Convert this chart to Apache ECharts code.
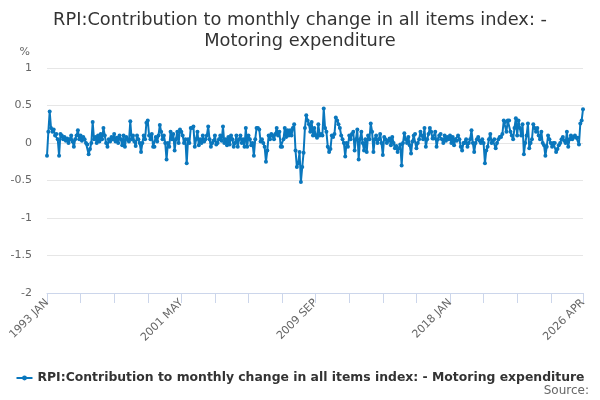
<!DOCTYPE html>
<html>
<head>
<meta charset="utf-8">
<script src="https://cdn.jsdelivr.net/npm/echarts@6/dist/echarts.min.js"></script>
<style>
html,body{margin:0;padding:0;background:#fff;}
#chart{width:600px;height:400px;}
</style>
</head>
<body>
<div id="chart"></div>
<script>
// monthly values, 1993 JAN .. 2026 APR (one row per year)
var values = [
    -0.17, 0.15, 0.42, 0.2, 0.15, 0.18, 0.1, 0.12, 0.05, -0.17, 0.12, 0.1,
    0.05, 0.08, 0.03, 0.06, 0.0, 0.05, 0.1, 0.02, -0.05, 0.05, 0.1, 0.17,
    0.05, 0.1, 0.03, 0.08, 0.05, 0.0, -0.02, -0.15, -0.08, 0.0, 0.28, 0.05,
    0.08, 0.0, 0.1, 0.02, 0.12, 0.05, 0.2, 0.1, 0.0, -0.05, 0.05, 0.02,
    0.08, 0.05, 0.12, 0.02, 0.07, 0.0, 0.1, 0.05, -0.03, 0.1, -0.05, 0.08,
    0.05, 0.02, 0.29, 0.05, 0.1, 0.02, -0.04, 0.1, 0.05, 0.0, -0.12, 0.0,
    0.1, 0.05, 0.27, 0.3, 0.1, 0.05, 0.12, -0.05, -0.05, 0.08, 0.02, 0.1,
    0.24, 0.15, 0.05, 0.1, 0.0, -0.22, 0.0, -0.05, 0.15, 0.05, 0.12, -0.1,
    0.05, 0.15, 0.0, 0.18, 0.15, 0.1, 0.0, 0.05, -0.27, 0.05, 0.0, 0.2,
    0.2, 0.22, -0.05, 0.05, 0.15, -0.03, 0.05, 0.0, 0.1, 0.02, 0.05, 0.1,
    0.22, 0.05, -0.05, 0.0, 0.03, 0.1, -0.02, 0.0, 0.05, 0.1, 0.03, 0.22,
    0.0, 0.05, -0.03, 0.08, -0.02, 0.1, 0.05, -0.05, 0.0, 0.1, -0.05, 0.05,
    0.1, 0.0, 0.05, -0.05, 0.2, -0.05, 0.1, 0.05, -0.03, 0.0, -0.17, 0.05,
    0.2, 0.2, 0.18, 0.02, 0.05, 0.0, -0.05, -0.25, -0.1, 0.1, 0.05, 0.12,
    0.1, 0.05, 0.12, 0.2, 0.1, 0.15, -0.05, -0.05, 0.05, 0.2, 0.08, 0.17,
    0.1, 0.17, 0.1, 0.2, 0.25, -0.1, -0.32, -0.27, -0.12, -0.52, -0.32, -0.13,
    0.2, 0.37, 0.3, 0.25, 0.15, 0.28, 0.1, 0.2, 0.1, 0.07, 0.25, 0.1,
    0.12, 0.1, 0.46, 0.2, 0.15, -0.05, -0.12, -0.08, 0.1, 0.08, 0.12, 0.34,
    0.3, 0.25, 0.2, 0.1, 0.05, 0.0, -0.18, 0.0, -0.05, 0.1, 0.05, 0.12,
    0.15, -0.1, 0.05, 0.18, -0.22, 0.05, 0.15, 0.0, -0.1, 0.05, -0.12, 0.1,
    0.05, 0.26, 0.15, -0.12, 0.05, 0.1, 0.0, 0.05, 0.12, 0.0, -0.16, 0.08,
    0.05, 0.0, 0.03, 0.06, -0.03, 0.08, 0.0, -0.07, -0.04, -0.12, -0.07, -0.02,
    -0.3, 0.0, 0.13, 0.05, 0.0, 0.08, -0.03, -0.14, 0.02, 0.1, 0.12, -0.07,
    0.0, 0.05, 0.15, 0.1, 0.05, 0.2, -0.05, 0.05, 0.12, 0.2, 0.15, 0.06,
    0.06, 0.15, -0.05, 0.05, 0.1, 0.12, 0.05, 0.0, 0.1, 0.03, 0.08, 0.05,
    0.1, 0.0, 0.08, -0.03, 0.05, 0.03, 0.1, 0.05, -0.05, -0.1, 0.0, 0.0,
    0.05, -0.05, 0.0, 0.05, 0.17, 0.0, -0.12, 0.0, 0.05, 0.08, 0.03, 0.0,
    0.05, 0.0, -0.27, -0.1, -0.05, 0.05, 0.12, 0.0, 0.03, 0.05, -0.07, 0.0,
    0.05, 0.08, 0.08, 0.12, 0.3, 0.28, 0.15, 0.3, 0.3, 0.15, 0.1, 0.05,
    0.2, 0.33, 0.1, 0.3, 0.2, 0.1, 0.25, -0.15, 0.0, 0.1, 0.26, -0.07,
    0.0, 0.05, 0.25, 0.2, 0.15, 0.2, 0.1, 0.05, 0.15, 0.0, -0.03, -0.17,
    -0.05, 0.1, 0.05, 0.0, -0.05, 0.0, 0.0, -0.12, -0.08, -0.03, 0.0, 0.05,
    0.08, 0.03, 0.0, 0.15, -0.05, 0.05, 0.1, 0.05, 0.08, 0.1, 0.07, 0.07,
    -0.02, 0.26, 0.3, 0.45
];
var months = ['JAN','FEB','MAR','APR','MAY','JUN','JUL','AUG','SEP','OCT','NOV','DEC'];
var startYear = 1993;
var seriesName = 'RPI:Contribution to monthly change in all items index: - Motoring expenditure';

var categories = [];
for (var i = 0; i < values.length; i++) {
    categories.push((startYear + Math.floor(i / 12)) + ' ' + months[i % 12]);
}
var last = values.length - 1;

var myChart = echarts.init(document.getElementById('chart'));
var option = {
    animation: false,
    color: ['#0a77bd'],
    title: {
        text: 'RPI:Contribution to monthly change in all items index: -\nMotoring expenditure',
        left: 'center',
        top: 5,
        textStyle: {
            fontFamily: 'DejaVu Sans',
            fontSize: 17.8,
            fontWeight: 'normal',
            color: '#333',
            lineHeight: 21
        }
    },
    grid: { left: 47, right: 17, top: 68, bottom: 107 },
    legend: {
        top: 367,
        left: 'center',
        itemWidth: 16,
        itemHeight: 6,
        itemGap: 5,
        textStyle: {
            fontFamily: 'DejaVu Sans',
            fontSize: 12.4,
            fontWeight: 'bold',
            color: '#333'
        }
    },
    xAxis: {
        type: 'category',
        data: categories,
        boundaryGap: false,
        axisLine: { onZero: false, lineStyle: { color: '#ccd6eb' } },
        axisTick: {
            show: true,
            length: 10,
            interval: function (idx) { return idx % 25 === 0 || idx === last; },
            lineStyle: { color: '#ccd6eb', width: 1 }
        },
        axisLabel: {
            interval: function (idx) { return idx % 100 === 0 || idx === last; },
            rotate: 45,
            margin: 8,
            color: '#666',
            fontFamily: 'DejaVu Sans',
            fontSize: 11
        },
        splitLine: { show: false }
    },
    yAxis: {
        type: 'value',
        min: -2,
        max: 1,
        interval: 0.5,
        name: '%',
        nameGap: 10,
        nameTextStyle: {
            align: 'right',
            padding: [0, 17, 0, 0],
            color: '#666',
            fontFamily: 'DejaVu Sans',
            fontSize: 11
        },
        axisLine: { show: false },
        axisTick: { show: false },
        axisLabel: {
            margin: 15,
            color: '#666',
            fontFamily: 'DejaVu Sans',
            fontSize: 11
        },
        splitLine: { lineStyle: { color: '#e6e6e6' } }
    },
    series: [
        {
            name: seriesName,
            type: 'line',
            data: values,
            symbol: 'circle',
            symbolSize: 4,
            showAllSymbol: true,
            lineStyle: { width: 2 }
        }
    ],
    graphic: [
        {
            type: 'text',
            right: 11,
            top: 385,
            style: {
                text: 'Source:',
                fill: '#666',
                font: '12px DejaVu Sans'
            }
        }
    ]
};
myChart.setOption(option);
window.addEventListener('resize', function () {
    myChart.resize();
});
</script>
</body>
</html>
